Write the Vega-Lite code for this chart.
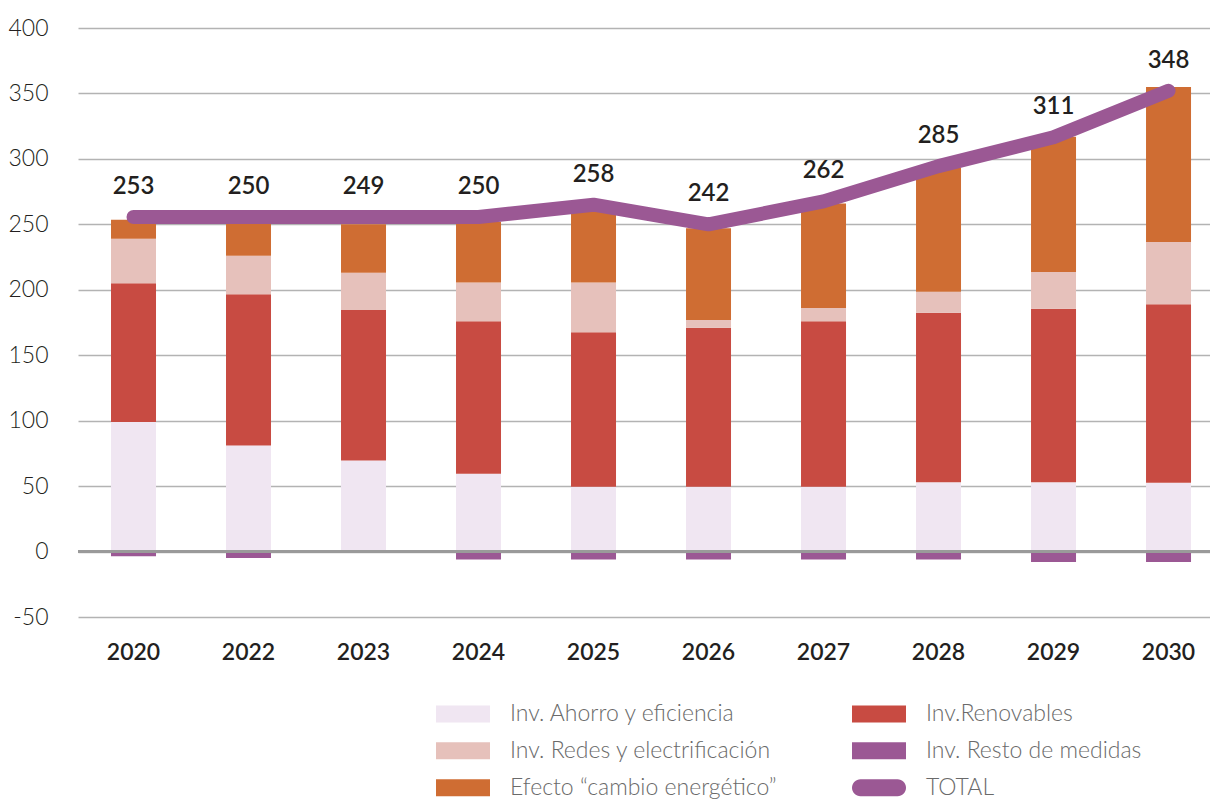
{
  "$schema": "https://vega.github.io/schema/vega-lite/v6.json",
  "autosize": {"type": "none"},
  "padding": {"left": 78, "top": 28, "right": 0, "bottom": 184},
  "width": 1132,
  "height": 589,
  "background": "white",
  "config": {
    "view": {"stroke": null},
    "font": "Lato"
  },
  "datasets": {
    "segmentos": [
      {"anio": "2020", "serie": "Inv. Ahorro y eficiencia", "orden": 1, "valor": 99},
      {"anio": "2020", "serie": "Inv.Renovables", "orden": 2, "valor": 106},
      {"anio": "2020", "serie": "Inv. Redes y electrificación", "orden": 3, "valor": 34},
      {"anio": "2020", "serie": "Efecto “cambio energético”", "orden": 4, "valor": 14.5},
      {"anio": "2020", "serie": "Inv. Resto de medidas", "orden": 5, "valor": -3.5},
      {"anio": "2022", "serie": "Inv. Ahorro y eficiencia", "orden": 1, "valor": 81},
      {"anio": "2022", "serie": "Inv.Renovables", "orden": 2, "valor": 115.5},
      {"anio": "2022", "serie": "Inv. Redes y electrificación", "orden": 3, "valor": 29.5},
      {"anio": "2022", "serie": "Efecto “cambio energético”", "orden": 4, "valor": 27},
      {"anio": "2022", "serie": "Inv. Resto de medidas", "orden": 5, "valor": -5},
      {"anio": "2023", "serie": "Inv. Ahorro y eficiencia", "orden": 1, "valor": 69.5},
      {"anio": "2023", "serie": "Inv.Renovables", "orden": 2, "valor": 115},
      {"anio": "2023", "serie": "Inv. Redes y electrificación", "orden": 3, "valor": 28.5},
      {"anio": "2023", "serie": "Efecto “cambio energético”", "orden": 4, "valor": 37},
      {"anio": "2023", "serie": "Inv. Resto de medidas", "orden": 5, "valor": 0},
      {"anio": "2024", "serie": "Inv. Ahorro y eficiencia", "orden": 1, "valor": 59.5},
      {"anio": "2024", "serie": "Inv.Renovables", "orden": 2, "valor": 116.5},
      {"anio": "2024", "serie": "Inv. Redes y electrificación", "orden": 3, "valor": 29.5},
      {"anio": "2024", "serie": "Efecto “cambio energético”", "orden": 4, "valor": 46.5},
      {"anio": "2024", "serie": "Inv. Resto de medidas", "orden": 5, "valor": -6},
      {"anio": "2025", "serie": "Inv. Ahorro y eficiencia", "orden": 1, "valor": 49.5},
      {"anio": "2025", "serie": "Inv.Renovables", "orden": 2, "valor": 118},
      {"anio": "2025", "serie": "Inv. Redes y electrificación", "orden": 3, "valor": 38},
      {"anio": "2025", "serie": "Efecto “cambio energético”", "orden": 4, "valor": 54},
      {"anio": "2025", "serie": "Inv. Resto de medidas", "orden": 5, "valor": -6},
      {"anio": "2026", "serie": "Inv. Ahorro y eficiencia", "orden": 1, "valor": 49.5},
      {"anio": "2026", "serie": "Inv.Renovables", "orden": 2, "valor": 121.5},
      {"anio": "2026", "serie": "Inv. Redes y electrificación", "orden": 3, "valor": 6},
      {"anio": "2026", "serie": "Efecto “cambio energético”", "orden": 4, "valor": 70},
      {"anio": "2026", "serie": "Inv. Resto de medidas", "orden": 5, "valor": -6},
      {"anio": "2027", "serie": "Inv. Ahorro y eficiencia", "orden": 1, "valor": 49.5},
      {"anio": "2027", "serie": "Inv.Renovables", "orden": 2, "valor": 126.5},
      {"anio": "2027", "serie": "Inv. Redes y electrificación", "orden": 3, "valor": 10},
      {"anio": "2027", "serie": "Efecto “cambio energético”", "orden": 4, "valor": 80},
      {"anio": "2027", "serie": "Inv. Resto de medidas", "orden": 5, "valor": -6},
      {"anio": "2028", "serie": "Inv. Ahorro y eficiencia", "orden": 1, "valor": 53},
      {"anio": "2028", "serie": "Inv.Renovables", "orden": 2, "valor": 129.5},
      {"anio": "2028", "serie": "Inv. Redes y electrificación", "orden": 3, "valor": 16},
      {"anio": "2028", "serie": "Efecto “cambio energético”", "orden": 4, "valor": 95},
      {"anio": "2028", "serie": "Inv. Resto de medidas", "orden": 5, "valor": -6},
      {"anio": "2029", "serie": "Inv. Ahorro y eficiencia", "orden": 1, "valor": 53},
      {"anio": "2029", "serie": "Inv.Renovables", "orden": 2, "valor": 132.5},
      {"anio": "2029", "serie": "Inv. Redes y electrificación", "orden": 3, "valor": 28},
      {"anio": "2029", "serie": "Efecto “cambio energético”", "orden": 4, "valor": 103.5},
      {"anio": "2029", "serie": "Inv. Resto de medidas", "orden": 5, "valor": -8},
      {"anio": "2030", "serie": "Inv. Ahorro y eficiencia", "orden": 1, "valor": 52.5},
      {"anio": "2030", "serie": "Inv.Renovables", "orden": 2, "valor": 136.5},
      {"anio": "2030", "serie": "Inv. Redes y electrificación", "orden": 3, "valor": 47.5},
      {"anio": "2030", "serie": "Efecto “cambio energético”", "orden": 4, "valor": 118.5},
      {"anio": "2030", "serie": "Inv. Resto de medidas", "orden": 5, "valor": -8}
    ],
    "totales": [
      {"anio": "2020", "linea": 255.6, "total": 253},
      {"anio": "2022", "linea": 255.6, "total": 250},
      {"anio": "2023", "linea": 255.6, "total": 249},
      {"anio": "2024", "linea": 255.6, "total": 250},
      {"anio": "2025", "linea": 265, "total": 258},
      {"anio": "2026", "linea": 250, "total": 242},
      {"anio": "2027", "linea": 267.5, "total": 262},
      {"anio": "2028", "linea": 294.5, "total": 285},
      {"anio": "2029", "linea": 316.5, "total": 311},
      {"anio": "2030", "linea": 352, "total": 348}
    ]
  },
  "encoding": {
    "x": {
      "field": "anio",
      "type": "nominal",
      "title": null,
      "scale": {"paddingInner": 0.6087, "paddingOuter": 0.226, "align": 0.635},
      "axis": {
        "domain": false,
        "ticks": false,
        "grid": false,
        "labelAngle": 0,
        "labelFont": "Lato",
        "labelFontSize": 23,
        "labelFontWeight": 600,
        "labelColor": "#231f20",
        "labelPadding": 24
      }
    }
  },
  "layer": [
    {
      "data": {"name": "segmentos"},
      "mark": {"type": "bar"},
      "encoding": {
        "y": {
          "field": "valor",
          "type": "quantitative",
          "stack": "zero",
          "title": null,
          "scale": {"domain": [-50, 400], "nice": false, "zero": false},
          "axis": {
            "values": [-50, 0, 50, 100, 150, 200, 250, 300, 350, 400],
            "labelExpr": "'' + datum.value",
            "domain": false,
            "ticks": false,
            "grid": true,
            "gridColor": "#b3b3b3",
            "gridWidth": 1.5,
            "labelFont": "Lato",
            "labelFontSize": 23,
            "labelFontWeight": 300,
            "labelColor": "#231f20",
            "labelPadding": 30
          }
        },
        "order": {"field": "orden", "type": "quantitative"},
        "color": {
          "field": "serie",
          "type": "nominal",
          "scale": {
            "domain": ["Inv. Ahorro y eficiencia", "Inv. Redes y electrificación", "Efecto “cambio energético”", "Inv.Renovables", "Inv. Resto de medidas", "TOTAL"],
            "range": ["#f0e6f2", "#e6c1bb", "#cf6d33", "#c84b42", "#9b5894", "#9b5894"]
          },
          "legend": {
            "title": null,
            "orient": "none",
            "legendX": 358,
            "legendY": 667.5,
            "columns": 2,
            "columnPadding": 75,
            "rowPadding": 0,
            "clipHeight": 36.5,
            "symbolType": "M-1,-0.315H1V0.315H-1Z",
            "symbolSize": 2916,
            "symbolStrokeWidth": 0,
            "symbolOpacity": 1,
            "labelFont": "Lato",
            "labelFontSize": 23,
            "labelFontWeight": 300,
            "labelColor": "#6a6a6a",
            "labelOffset": 20,
            "labelLimit": 400,
            "encode": {
              "symbols": {
                "update": {
                  "shape": {"signal": "datum.value === 'TOTAL' ? 'M-0.685,-0.315H0.685A0.315,0.315 0 0 1 0.685,0.315H-0.685A0.315,0.315 0 0 1 -0.685,-0.315Z' : 'M-1,-0.315H1V0.315H-1Z'"}
                }
              }
            }
          }
        }
      }
    },
    {
      "data": {"values": [{"cero": 0}]},
      "mark": {"type": "rule", "color": "#9a9a9a", "strokeWidth": 3},
      "encoding": {
        "y": {"field": "cero", "type": "quantitative"},
        "x": {"value": 0},
        "x2": {"value": 1132}
      }
    },
    {
      "data": {"name": "totales"},
      "mark": {"type": "line", "color": "#9b5894", "strokeWidth": 14, "strokeCap": "round", "strokeJoin": "round"},
      "encoding": {
        "y": {"field": "linea", "type": "quantitative"}
      }
    },
    {
      "data": {"name": "totales"},
      "mark": {"type": "text", "font": "Lato", "fontSize": 24, "fontWeight": 600, "color": "#231f20", "dy": -30},
      "encoding": {
        "y": {"field": "linea", "type": "quantitative"},
        "text": {"field": "total", "type": "quantitative"}
      }
    }
  ]
}
